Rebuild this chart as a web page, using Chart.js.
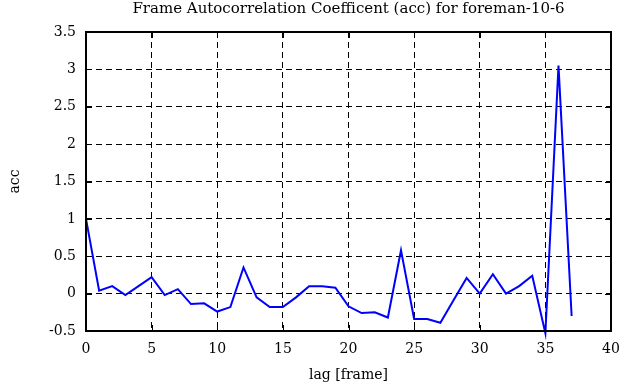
<!DOCTYPE html>
<html>
<head>
<meta charset="utf-8">
<script src="https://cdn.jsdelivr.net/npm/chart.js@4"></script>
<style>
  html, body { margin: 0; padding: 0; background: #fff; }
  #wrap { width: 635px; height: 387px; }
</style>
</head>
<body>
<div id="wrap"><canvas id="accChart" width="635" height="387"></canvas></div>
<script>
const lags = [0, 1, 2, 3, 4, 5, 6, 7, 8, 9, 10, 11, 12, 13, 14, 15, 16, 17, 18, 19,
  20, 21, 22, 23, 24, 25, 26, 27, 28, 29, 30, 31, 32, 33, 34, 35, 36, 37];
const acc = [1.0, 0.04, 0.1, -0.02, 0.1, 0.22, -0.02, 0.06, -0.14, -0.13,
  -0.24, -0.18, 0.35, -0.05, -0.18, -0.18, -0.05, 0.1, 0.1, 0.08,
  -0.17, -0.26, -0.25, -0.32, 0.58, -0.34, -0.34, -0.39, -0.09, 0.21,
  0.0, 0.26, 0.0, 0.1, 0.24, -0.53, 3.05, -0.3];
const xTicks = [0, 5, 10, 15, 20, 25, 30, 35, 40];
const yTicks = [-0.5, 0, 0.5, 1, 1.5, 2, 2.5, 3, 3.5];
const titleText = 'Frame Autocorrelation Coefficent (acc) for foreman-10-6';

const serif = '"DejaVu Serif", "Liberation Serif", serif';

// matlab-style inward ticks, a solid box round the plot, title centred on the plot
const boxTicks = {
  id: 'boxTicks',
  afterDraw(chart) {
    const { ctx, chartArea: a, scales } = chart;
    const len = 6;
    ctx.save();
    ctx.strokeStyle = '#000';
    ctx.lineWidth = 1;
    ctx.beginPath();
    xTicks.forEach(v => {
      const px = Math.round(scales.x.getPixelForValue(v)) + 0.5;
      ctx.moveTo(px, a.bottom); ctx.lineTo(px, a.bottom - len);
      ctx.moveTo(px, a.top); ctx.lineTo(px, a.top + len);
    });
    yTicks.forEach(v => {
      const py = Math.round(scales.y.getPixelForValue(v)) + 0.5;
      ctx.moveTo(a.left, py); ctx.lineTo(a.left + len, py);
      ctx.moveTo(a.right, py); ctx.lineTo(a.right - len, py);
    });
    ctx.stroke();
    ctx.lineWidth = 2;
    ctx.strokeRect(a.left, a.top, a.right - a.left, a.bottom - a.top);

    ctx.fillStyle = '#000';
    ctx.font = '15px ' + serif;
    ctx.textAlign = 'center';
    ctx.textBaseline = 'middle';
    ctx.fillText(titleText, (a.left + a.right) / 2, 9);
    ctx.restore();
  }
};

const ctx = document.getElementById('accChart').getContext('2d');

new Chart(ctx, {
  type: 'line',
  data: {
    datasets: [{
      data: lags.map((l, i) => ({ x: l, y: acc[i] })),
      borderColor: '#0000ff',
      borderWidth: 2,
      pointRadius: 0,
      tension: 0,
      clip: false
    }]
  },
  options: {
    responsive: false,
    animation: false,
    layout: { padding: { top: 32, right: 24, left: 0, bottom: 0 } },
    plugins: {
      legend: { display: false },
      tooltip: { enabled: false },
      title: { display: false }
    },
    scales: {
      x: {
        type: 'linear',
        min: 0,
        max: 40,
        afterBuildTicks: s => { s.ticks = xTicks.map(v => ({ value: v })); },
        afterFit: s => { s.height = 56; },
        grid: {
          color: '#000',
          lineWidth: 1,
          drawTicks: false
        },
        border: { display: false, dash: [6, 4] },
        ticks: {
          color: '#000',
          font: { family: serif, size: 14 },
          padding: 10,
          maxRotation: 0
        },
        title: {
          display: true,
          text: 'lag [frame]',
          color: '#000',
          font: { family: serif, size: 14 },
          padding: { top: 4, bottom: 3 }
        }
      },
      y: {
        min: -0.5,
        max: 3.5,
        afterBuildTicks: s => { s.ticks = yTicks.map(v => ({ value: v })); },
        afterFit: s => { s.width = 86; },
        grid: {
          color: '#000',
          lineWidth: 1,
          drawTicks: false
        },
        border: { display: false, dash: [6, 4] },
        ticks: {
          color: '#000',
          font: { family: serif, size: 14 },
          padding: 10,
          callback: v => String(v)
        },
        title: {
          display: true,
          text: 'acc',
          color: '#000',
          font: { family: serif, size: 14 },
          padding: { top: 7, bottom: 0 }
        }
      }
    }
  },
  plugins: [boxTicks]
});
</script>
</body>
</html>
